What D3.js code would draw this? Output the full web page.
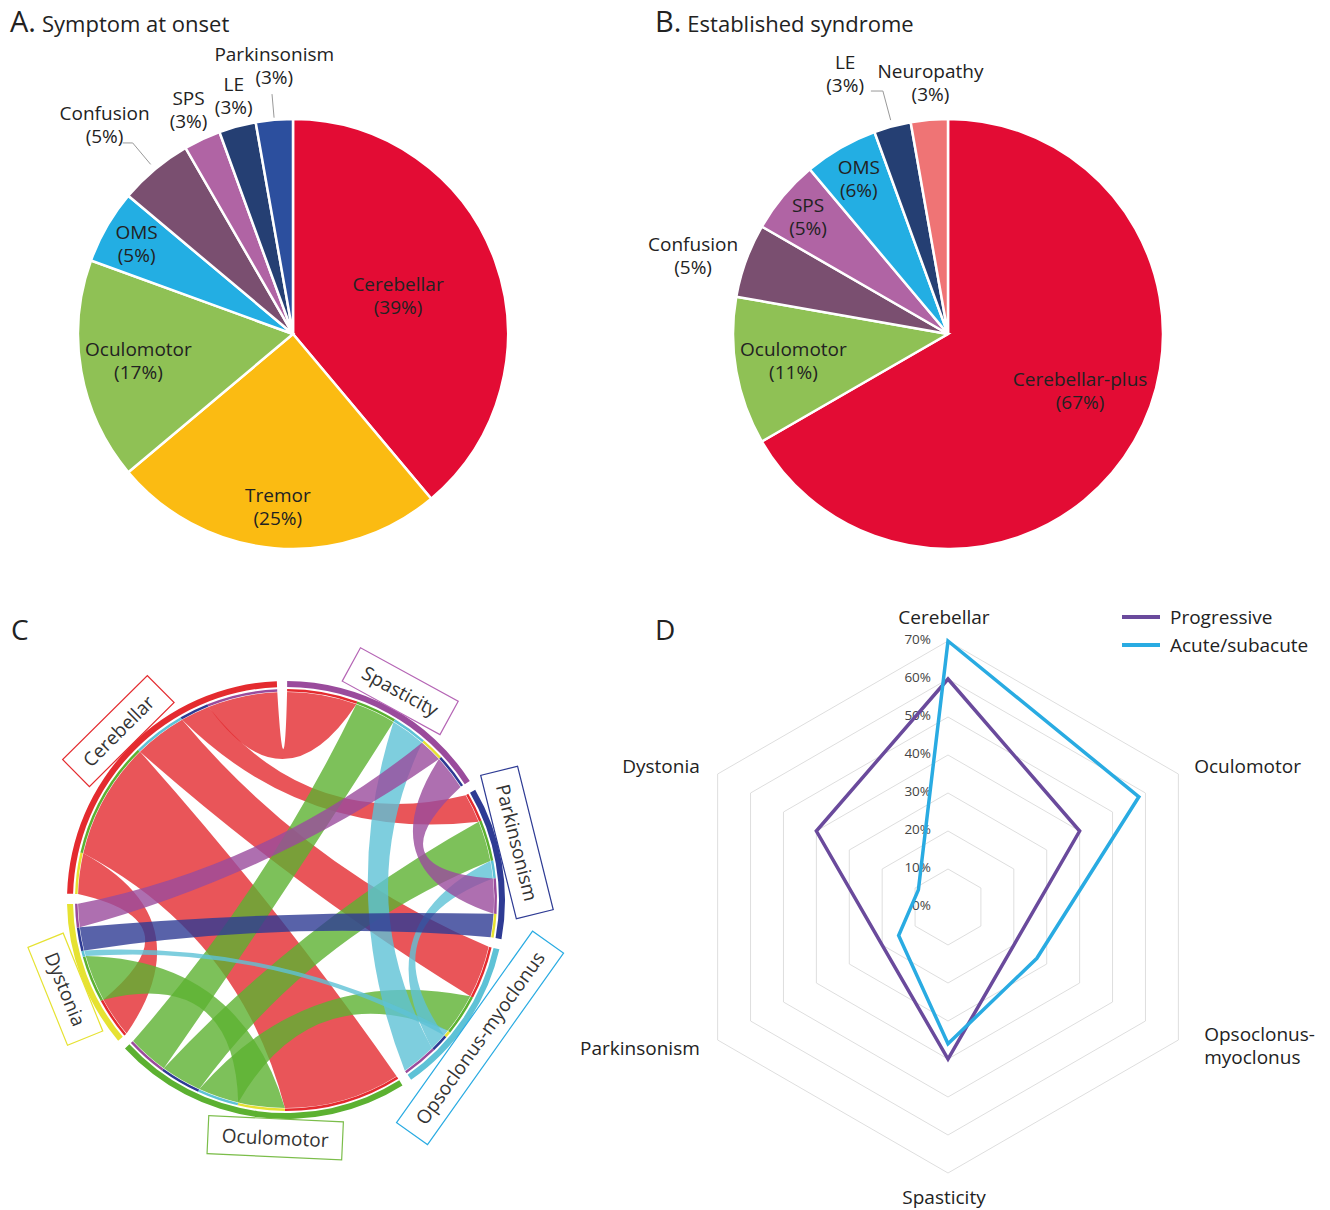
<!DOCTYPE html>
<html>
<head>
<meta charset="utf-8">
<script src="https://cdn.jsdelivr.net/npm/d3@7"></script>
<style>
    body { margin: 0; background: #fff; }
    svg text { font-family: "Open Sans", sans-serif; fill: #222; }
</style>
</head>
<body>
<div id="container"></div>
<script>
// A. symptom at onset (patients, n = 36)
const onsetNames = ['Cerebellar', 'Tremor', 'Oculomotor', 'OMS', 'Confusion', 'SPS', 'LE', 'Parkinsonism'];
const onsetCounts = [14, 9, 6, 2, 2, 1, 1, 1];
const onsetPct = ['39%', '25%', '17%', '5%', '5%', '3%', '3%', '3%'];

// B. established syndrome
const syndromeNames = ['Cerebellar-plus', 'Oculomotor', 'Confusion', 'SPS', 'OMS', 'LE', 'Neuropathy'];
const syndromeCounts = [24, 4, 2, 2, 2, 1, 1];
const syndromePct = ['67%', '11%', '5%', '5%', '6%', '3%', '3%'];

// C. co-occurrence of features
const chordGroups = ['Spasticity', 'Parkinsonism', 'Opsoclonus-myoclonus', 'Oculomotor', 'Dystonia', 'Cerebellar'];
const chordLinks = [
    ['Cerebellar', 'Spasticity', 12],
    ['Cerebellar', 'Parkinsonism', 5],
    ['Cerebellar', 'Opsoclonus-myoclonus', 9],
    ['Cerebellar', 'Oculomotor', 20],
    ['Cerebellar', 'Dystonia', 7],
    ['Oculomotor', 'Spasticity', 7],
    ['Oculomotor', 'Parkinsonism', 7],
    ['Oculomotor', 'Opsoclonus-myoclonus', 7],
    ['Oculomotor', 'Dystonia', 8],
    ['Opsoclonus-myoclonus', 'Spasticity', 6],
    ['Opsoclonus-myoclonus', 'Parkinsonism', 3],
    ['Opsoclonus-myoclonus', 'Dystonia', 1],
    ['Spasticity', 'Parkinsonism', 6],
    ['Spasticity', 'Dystonia', 4],
    ['Parkinsonism', 'Dystonia', 4]
];
// order of link ends inside each group, clockwise
const subgroupOrder = {
    'Spasticity': ['Cerebellar', 'Oculomotor', 'Opsoclonus-myoclonus', 'Dystonia', 'Parkinsonism'],
    'Parkinsonism': ['Cerebellar', 'Oculomotor', 'Opsoclonus-myoclonus', 'Spasticity', 'Dystonia'],
    'Opsoclonus-myoclonus': ['Cerebellar', 'Oculomotor', 'Dystonia', 'Parkinsonism', 'Spasticity'],
    'Oculomotor': ['Cerebellar', 'Dystonia', 'Opsoclonus-myoclonus', 'Parkinsonism', 'Spasticity'],
    'Dystonia': ['Cerebellar', 'Oculomotor', 'Opsoclonus-myoclonus', 'Parkinsonism', 'Spasticity'],
    'Cerebellar': ['Dystonia', 'Oculomotor', 'Opsoclonus-myoclonus', 'Parkinsonism', 'Spasticity']
};

// D. radar
const radarAxes = ['Cerebellar', 'Oculomotor', 'Opsoclonus-\nmyoclonus', 'Spasticity', 'Parkinsonism', 'Dystonia'];
const progressive = [60, 40, 20, 40, 20, 40];
const acute = [70, 58, 27, 36, 15, 9];
const radarTicks = [0, 10, 20, 30, 40, 50, 60, 70];
const seriesNames = ['Progressive', 'Acute/subacute'];

const pieColor = {
    'Cerebellar': '#e30c34', 'Cerebellar-plus': '#e30c34', 'Tremor': '#fbbb12',
    'Oculomotor': '#8fc155', 'OMS': '#23aee3', 'Confusion': '#7a4f70', 'SPS': '#b064a4',
    'LE': '#253f73', 'Parkinsonism': '#2c4f9e', 'Neuropathy': '#ef7475'
};
const ringColor = {
    'Cerebellar': '#e42b2f', 'Spasticity': '#9a4b9c', 'Parkinsonism': '#2e3b94',
    'Opsoclonus-myoclonus': '#5ec2d6', 'Oculomotor': '#5cb131', 'Dystonia': '#e6e232'
};
const boxColor = {
    'Cerebellar': '#e42b2f', 'Spasticity': '#b565b5', 'Parkinsonism': '#2e3b94',
    'Opsoclonus-myoclonus': '#29abe2', 'Oculomotor': '#7bbd4a', 'Dystonia': '#e6e232'
};
const seriesColor = ['#6a4a9c', '#29abe2'];

const width = 1330, height = 1210;
const rad = Math.PI / 180;

const svg = d3.select('#container').append('svg')
    .attr('width', width)
    .attr('height', height);

function polar(angle, r) {
    return [r * Math.sin(angle), -r * Math.cos(angle)];
}

function drawTitle(x, letter, text) {
    const t = svg.append('text').attr('x', x).attr('y', 32);
    t.append('tspan').attr('font-size', 29).text(letter);
    t.append('tspan').attr('font-size', 22).attr('dx', 6).text(text);
}

function drawPie(cx, cy, names, counts, pct, labelPos, leaders) {
    const r = 215;
    const g = svg.append('g').attr('transform', `translate(${cx},${cy})`);
    const pie = d3.pie().sort(null).value(d => d)(counts);
    const arc = d3.arc().innerRadius(0).outerRadius(r);

    g.selectAll('path.slice')
        .data(pie)
        .enter()
        .append('path')
        .attr('class', 'slice')
        .attr('d', arc)
        .attr('fill', (d, i) => pieColor[names[i]])
        .attr('stroke', '#fff')
        .attr('stroke-width', 2.5);

    pie.forEach((d, i) => {
        const mid = (d.startAngle + d.endAngle) / 2 + labelPos[i][1] * rad;
        const [x, y] = polar(mid, r * labelPos[i][0]);
        const t = g.append('text')
            .attr('text-anchor', 'middle')
            .attr('font-size', 19);
        t.append('tspan').attr('x', x).attr('y', y - 5).text(names[i]);
        t.append('tspan').attr('x', x).attr('y', y + 18).text('(' + pct[i] + ')');
    });

    leaders.forEach(([i, r0, r1, dx]) => {
        const mid = (pie[i].startAngle + pie[i].endAngle) / 2;
        const p0 = polar(mid, r * r0), p1 = polar(mid, r * r1);
        const pts = [p0, p1];
        if (dx) pts.push([p1[0] + dx, p1[1]]);
        g.append('path')
            .attr('d', d3.line()(pts))
            .attr('fill', 'none')
            .attr('stroke', '#999')
            .attr('stroke-width', 1);
    });
}

// ribbon with its control points pulled only part way to the centre
function ribbonPath(s, t, r, shrink) {
    const p = d3.path();
    const pt = a => polar(a, r);
    const ctrl = (a, b) => {
        const A = pt(a), B = pt(b);
        return [(A[0] + B[0]) / 2 * shrink, (A[1] + B[1]) / 2 * shrink];
    };
    const s0 = pt(s.startAngle);
    p.moveTo(s0[0], s0[1]);
    p.arc(0, 0, r, s.startAngle - Math.PI / 2, s.endAngle - Math.PI / 2);
    let c = ctrl(s.endAngle, t.startAngle), e = pt(t.startAngle);
    p.quadraticCurveTo(c[0], c[1], e[0], e[1]);
    p.arc(0, 0, r, t.startAngle - Math.PI / 2, t.endAngle - Math.PI / 2);
    c = ctrl(t.endAngle, s.startAngle);
    p.quadraticCurveTo(c[0], c[1], s0[0], s0[1]);
    p.closePath();
    return p.toString();
}

function drawChord() {
    const cx = 286, cy = 900;
    const ringInner = 213, ringOuter = 219, rimInner = 208.5, rimOuter = 211, ribbonR = 208;
    const pad = 2.7 * rad, offset = 0.3 * rad;
    const n = chordGroups.length;
    const idx = name => chordGroups.indexOf(name);
    // small angle nudges for the boxed labels
    const labelNudge = [0, -4, 1.3, -5, -1.5, 0.6];

    const matrix = Array.from({length: n}, () => new Array(n).fill(0));
    chordLinks.forEach(([a, b, v]) => {
        matrix[idx(a)][idx(b)] = v;
        matrix[idx(b)][idx(a)] = v;
    });
    const total = d3.sum(matrix.flat());
    const k = d3.scaleLinear().domain([0, total]).range([0, 2 * Math.PI - n * pad]);

    const groups = [], ends = {};
    let a = offset;
    chordGroups.forEach((name, i) => {
        const start = a;
        subgroupOrder[name].forEach(p => {
            const w = k(matrix[i][idx(p)]);
            ends[name + '|' + p] = {startAngle: a, endAngle: a + w, partner: p};
            a += w;
        });
        groups.push({name: name, startAngle: start, endAngle: a});
        a += pad;
    });

    const g = svg.append('g').attr('transform', `translate(${cx},${cy})`);

    g.append('g')
        .selectAll('path')
        .data(chordLinks)
        .enter()
        .append('path')
        .attr('d', d => ribbonPath(ends[d[0] + '|' + d[1]], ends[d[1] + '|' + d[0]], ribbonR, 0.45))
        .attr('fill', d => ringColor[d[0]])
        .attr('fill-opacity', 0.8);

    // thin rim on each link end, coloured by the partner group
    const rimArc = d3.arc().innerRadius(rimInner).outerRadius(rimOuter);
    g.append('g')
        .selectAll('path')
        .data(Object.values(ends))
        .enter()
        .append('path')
        .attr('d', rimArc)
        .attr('fill', d => ringColor[d.partner]);

    const ringArc = d3.arc().innerRadius(ringInner).outerRadius(ringOuter);
    g.append('g')
        .selectAll('path')
        .data(groups)
        .enter()
        .append('path')
        .attr('d', ringArc)
        .attr('fill', d => ringColor[d.name]);

    // label boxes
    groups.forEach((d, i) => {
        const mid = (d.startAngle + d.endAngle) / 2 + labelNudge[i] * rad;
        const deg = mid / rad;
        const rot = (deg > 90 && deg < 270) ? deg - 180 : (deg > 270 ? deg - 360 : deg);
        const [x, y] = polar(mid, 238);
        const lg = g.append('g').attr('transform', `translate(${x},${y}) rotate(${rot})`);
        const t = lg.append('text')
            .attr('text-anchor', 'middle')
            .attr('dominant-baseline', 'central')
            .attr('font-size', 19)
            .style('fill', '#333')
            .text(d.name);
        const w = t.node().getComputedTextLength() + 28;
        lg.insert('rect', 'text')
            .attr('x', -w / 2)
            .attr('y', -19)
            .attr('width', w)
            .attr('height', 38)
            .attr('fill', '#fff')
            .attr('stroke', boxColor[d.name])
            .attr('stroke-width', 1.2);
    });
}

function drawRadar() {
    const cx = 948, cy = 907;
    const r = d3.scaleLinear().domain([0, 70]).range([0, 266]);
    const step = 2 * Math.PI / radarAxes.length;
    const g = svg.append('g').attr('transform', `translate(${cx},${cy})`);

    const ringLine = d3.lineRadial()
        .angle((d, i) => i * step)
        .radius(d => r(d))
        .curve(d3.curveLinearClosed);

    g.append('g')
        .selectAll('path')
        .data(radarTicks.filter(t => t > 0))
        .enter()
        .append('path')
        .attr('d', t => ringLine(radarAxes.map(() => t)))
        .attr('fill', 'none')
        .attr('stroke', '#dedede')
        .attr('stroke-width', 1);

    g.append('g')
        .selectAll('text')
        .data(radarTicks)
        .enter()
        .append('text')
        .attr('x', -17)
        .attr('y', t => -r(t) - 2)
        .attr('text-anchor', 'end')
        .attr('dominant-baseline', 'central')
        .attr('font-size', 13.5)
        .style('fill', '#444')
        .text(t => t + '%');

    [progressive, acute].forEach((s, i) => {
        g.append('path')
            .attr('d', ringLine(s))
            .attr('fill', 'none')
            .attr('stroke', seriesColor[i])
            .attr('stroke-width', 3.5)
            .attr('stroke-linejoin', 'miter');
    });

    radarAxes.forEach((name, i) => {
        const ang = i * step;
        const vertical = Math.abs(Math.sin(ang)) < 0.01;
        const [x, y] = polar(ang, vertical ? 290 : 282);
        const lines = name.split('\n');
        const right = Math.sin(ang) > 0;
        const t = g.append('text')
            .attr('font-size', 19)
            .attr('dominant-baseline', 'central')
            .attr('text-anchor', vertical ? 'middle' : (right ? 'start' : 'end'));
        lines.forEach((l, j) => {
            t.append('tspan')
                .attr('x', x + (vertical ? -4 : (right ? 2 + 10 * (lines.length - 1) : -4)))
                .attr('y', y + (j - (lines.length - 1) / 2) * 23 - (lines.length - 1) * 3)
                .text(l);
        });
    });

    // legend
    const lg = svg.append('g').attr('transform', 'translate(1122,617)');
    seriesNames.forEach((name, i) => {
        lg.append('line')
            .attr('x1', 0).attr('x2', 38)
            .attr('y1', i * 28).attr('y2', i * 28)
            .attr('stroke', seriesColor[i])
            .attr('stroke-width', 4);
        lg.append('text')
            .attr('x', 48)
            .attr('y', i * 28)
            .attr('dominant-baseline', 'central')
            .attr('font-size', 19)
            .text(name);
    });
}

drawTitle(10, 'A.', 'Symptom at onset');
drawTitle(655, 'B.', 'Established syndrome');
svg.append('text').attr('x', 11).attr('y', 640).attr('font-size', 28).text('C');
svg.append('text').attr('x', 655).attr('y', 640).attr('font-size', 28).text('D');

// label placement: [radius factor, angle nudge in degrees]
drawPie(293, 334, onsetNames, onsetCounts, onsetPct,
    [[0.52, 0], [0.81, 0], [0.73, 0], [0.84, 0], [1.31, -2], [1.15, 0], [1.14, 1], [1.25, 1]],
    [[4, 1.03, 1.16, -10], [7, 1.01, 1.12, 0]]);
drawPie(948, 334, syndromeNames, syndromeCounts, syndromePct,
    [[0.67, -6.5], [0.73, 0], [1.24, -3], [0.85, 0], [0.83, 0], [1.3, -6.6], [1.17, 1]],
    [[5, 1.03, 1.17, -12]]);
drawChord();
drawRadar();
</script>
</body>
</html>
